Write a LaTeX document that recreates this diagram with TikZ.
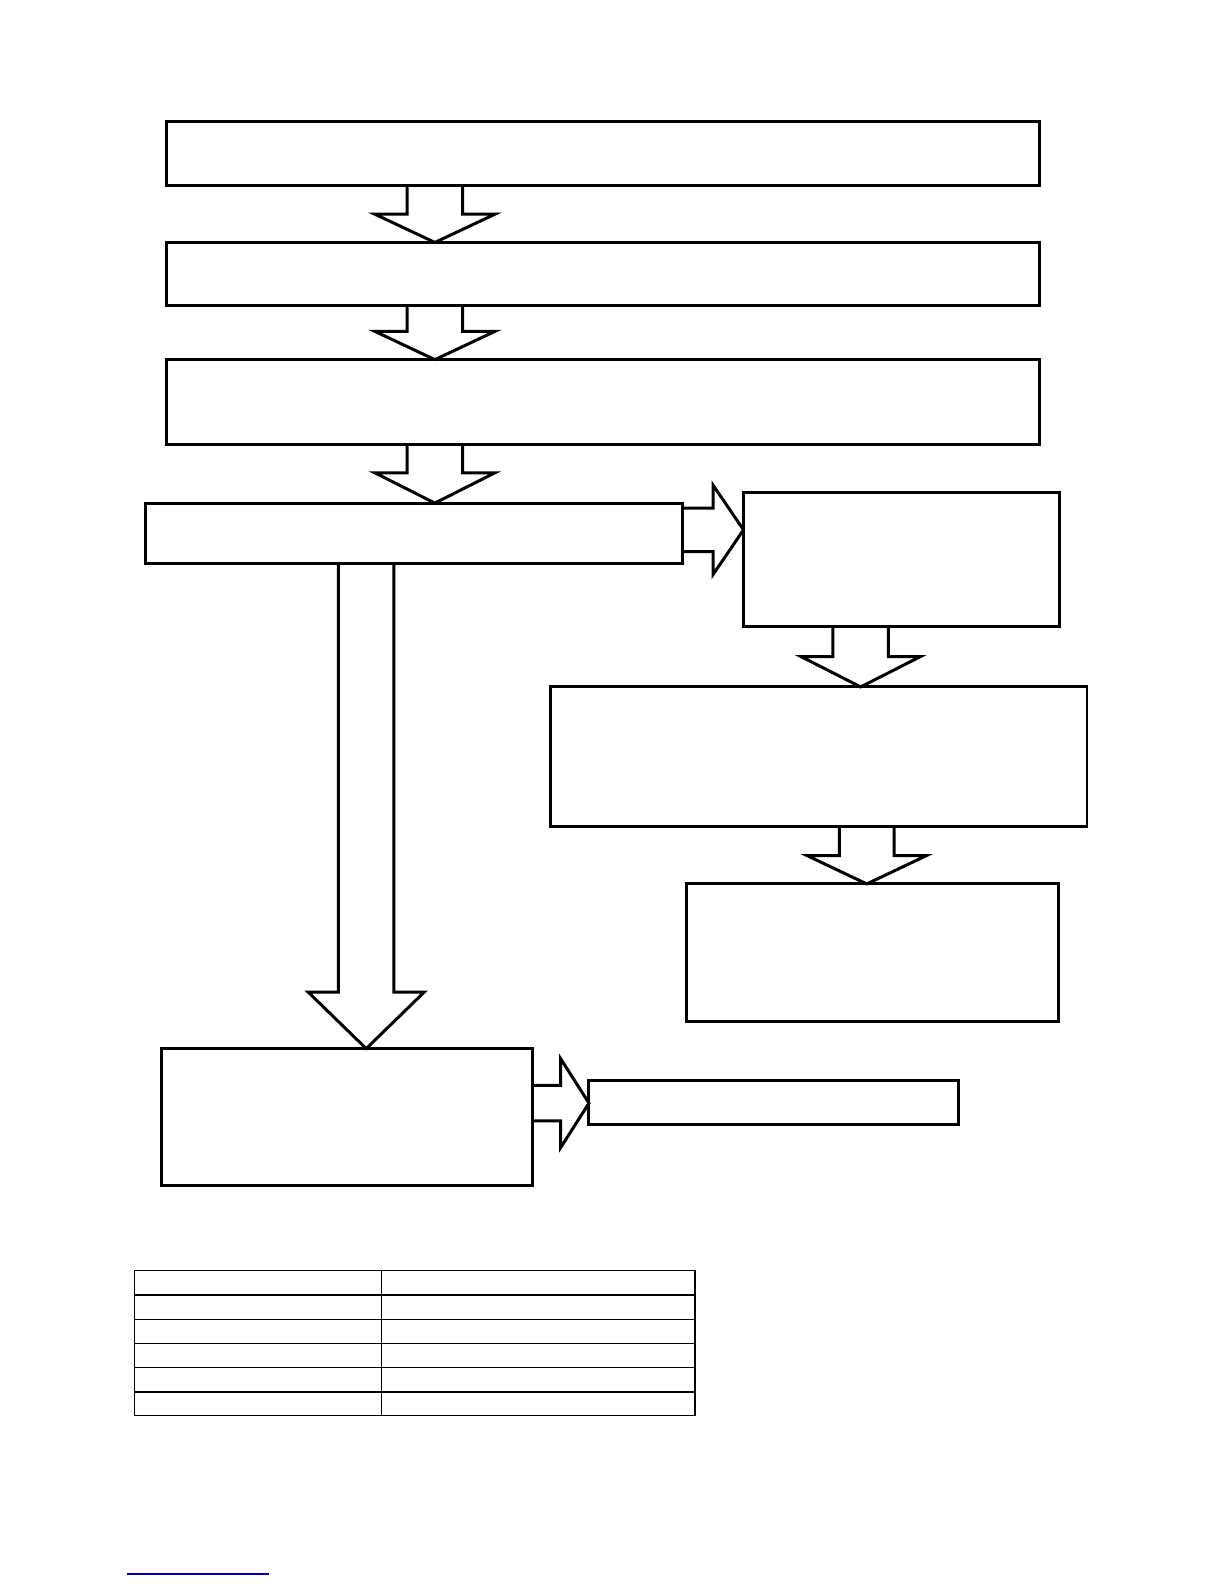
\documentclass[tikz,border=0pt]{standalone}
\usetikzlibrary{positioning,fit,calc}
\def\px{0.0178cm}
\tikzset{
	box/.style={
		draw,
		line width=1.5pt,
		inner sep=0pt,
		outer sep=0pt,
		rectangle,
	},
	fatarrow/.style={
		draw=black,
		line width=1.5pt,
		line join=miter,
	},
	grid/.style={
		draw=black,
		line width=0.6pt,
	}
}
% #1 from, #2 to, #3 centre, #4 half shaft, #5 half head, #6 head length
\newcommand{\fatdown}[6]{%
	\draw[fatarrow] (#3-#4,0 |- #1.south) -- ($(#3-#4,0 |- #2.north)+(0,-#6)$) -- ($(#3-#5,0 |- #2.north)+(0,-#6)$) -- (#3,0 |- #2.north) -- ($(#3+#5,0 |- #2.north)+(0,-#6)$) -- ($(#3+#4,0 |- #2.north)+(0,-#6)$) -- (#3+#4,0 |- #1.south);}
\newcommand{\fatright}[6]{%
	\draw[fatarrow] (#1.east |- 0,#3-#4) -- ($(#2.west |- 0,#3-#4)+(-#6,0)$) -- ($(#2.west |- 0,#3-#5)+(-#6,0)$) -- (#2.west |- 0,#3) -- ($(#2.west |- 0,#3+#5)+(-#6,0)$) -- ($(#2.west |- 0,#3+#4)+(-#6,0)$) -- (#1.east |- 0,#3+#4);}

\begin{document}
\begin{tikzpicture}[x=\px, y=-\px]
	\useasboundingbox (0,0) rectangle (1212,1568);
	
	% --- Main column ---
	\node[box, fit={(165,120) (1029,184)}] (first) {};
	\node[box, fit={(165,240) (1029,302)}] (second) {};
	\node[box, fit={(165,356) (1029,440)}] (third) {};
	\node[box, fit={(144,498) (676,558)}] (branch) {};
	
	% --- Right branch ---
	\node[box, fit={(736,488) (1049,620)}] (right1) {};
	\node[box, fit={(545,680) (1076,818)}] (right2) {};
	\node[box, fit={(680,875) (1048,1011)}] (right3) {};
	
	% --- Left branch ---
	\node[box, fit={(160,1038) (527,1174)}] (left1) {};
	\node[box, fit={(583,1070) (949,1113)}] (left2) {};
	
	% --- Flows ---
	\fatdown{first}{second}{430.5}{27.5}{59.5}{28}
	\fatdown{second}{third}{430.5}{27.5}{59.5}{28}
	\fatdown{third}{branch}{430.5}{27.5}{59.5}{30}
	\fatright{branch}{right1}{524.5}{21.5}{44}{30}
	\fatdown{right1}{right2}{852}{27.5}{59}{30}
	\fatdown{right2}{right3}{858}{27}{59}{28}
	\fatdown{branch}{left1}{362.5}{27.5}{57.5}{56}
	\fatright{left1}{left2}{1092}{17.5}{44}{28}
	
	% --- Table ---
	\draw[grid] (133,1258) rectangle (688,1401);
	\draw[grid] (378,1258) -- (378,1401);
	\foreach \y in {1282,1306,1330,1354,1378}
		\draw[grid] (133,\y) -- (688,\y);
	
	% link line
	\draw[blue!70!black, line width=0.8pt] (126,1558) -- (266,1558);
\end{tikzpicture}
\end{document}
